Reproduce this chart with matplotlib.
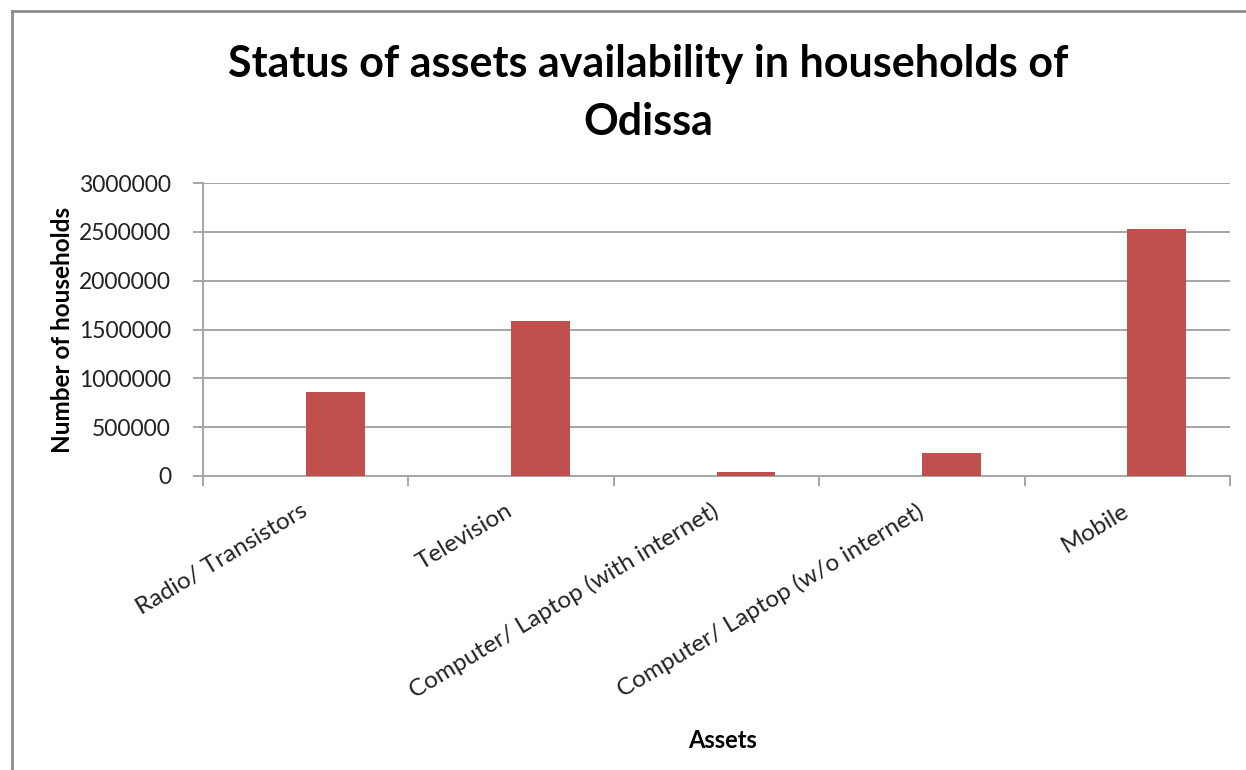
import matplotlib
matplotlib.use("Agg")
import matplotlib.pyplot as plt
from matplotlib.lines import Line2D
import numpy as np

categories = ["Radio/ Transistors", "Television", "Computer/ Laptop (with internet)",
              "Computer/ Laptop (w/o internet)", "Mobile"]
households = [863000, 1584000, 38000, 232000, 2526000]
yticks = [0, 500000, 1000000, 1500000, 2000000, 2500000, 3000000]

FONT = "Lato"
plt.rcParams['font.family'] = [FONT, 'DejaVu Sans']

fig = plt.figure(figsize=(12.46, 7.7), dpi=100)
ax = fig.add_axes([203/1246, 1-476/770, (1230-203)/1246, (476-183)/770])

x = np.arange(len(categories))
ax.bar(x, households, width=0.287, align='edge', color="#C0504D", zorder=3)

ax.set_xlim(-0.5, len(categories)-0.5)
ax.set_ylim(0, 3000000)
ax.set_yticks(yticks)
ax.set_yticklabels([str(v) for v in yticks], fontsize=16.5, color="#222222")
ax.yaxis.grid(True, color="#a6a6a6", linewidth=1.4, zorder=0)
ax.set_axisbelow(True)

ax.set_xticks(x)
ax.set_xticklabels(categories, rotation=31, ha='right', va='center',
                   rotation_mode='anchor', fontsize=17.5, color="#222222")
ax.tick_params(axis='x', length=0, pad=24)
ax.set_xticks(np.arange(-0.5, len(categories)), minor=True)
ax.tick_params(axis='x', which='minor', length=7, color="#a6a6a6", width=1.4)
ax.tick_params(axis='y', length=7, color="#a6a6a6", width=1.4, pad=16)

for s in ['top', 'right']:
    ax.spines[s].set_visible(False)
for s in ['left', 'bottom']:
    ax.spines[s].set_color("#a6a6a6")
    ax.spines[s].set_linewidth(1.4)

fig.text(62/1246, 1-330/770, "Number of households", rotation=90, ha='center', va='center',
         fontsize=17.5, fontweight='bold')
fig.text(723/1246, 1-740/770, "Assets", ha='center', va='center', fontsize=17, fontweight='bold')
fig.text(648/1246, 1-93/770, "Status of assets availability in households of\nOdissa",
         ha='center', va='center', fontsize=31, fontweight='bold', linespacing=1.55)

fig.add_artist(Line2D([12/1246, 12/1246], [0, 1-11/770], transform=fig.transFigure,
                      color="#8c8c8c", linewidth=2))
fig.add_artist(Line2D([12/1246, 1], [1-11/770, 1-11/770], transform=fig.transFigure,
                      color="#8c8c8c", linewidth=2))

fig.savefig("out.png", dpi=100)
